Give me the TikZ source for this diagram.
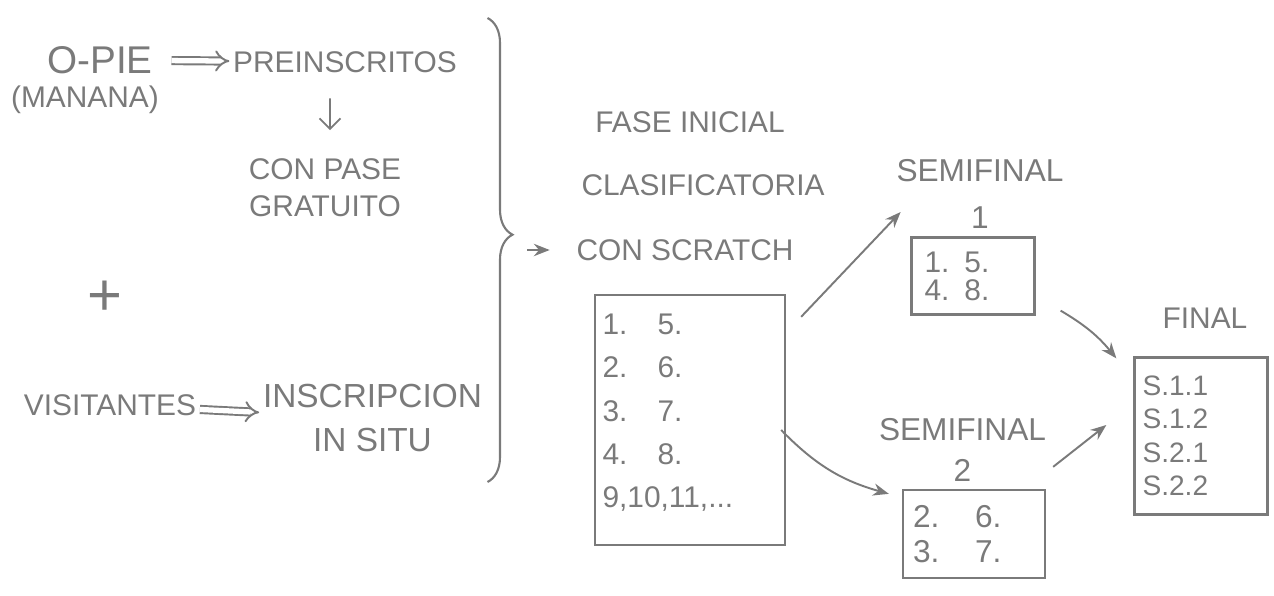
\documentclass[tikz,border=0pt]{standalone}
\usepackage{fontspec}
\setmainfont{Liberation Sans}
\usetikzlibrary{arrows.meta,positioning,decorations.pathreplacing}
\definecolor{lapiz}{HTML}{7A7A7A}
\newcommand{\fila}[3][1.1cm]{\makebox[#1][l]{#2}#3}

\begin{document}
\begin{tikzpicture}[
        every node/.style={text=lapiz, font=\fontsize{17}{21}\selectfont, inner sep=2pt},
        caja/.style={draw=lapiz, line width=1.3pt, align=left, inner sep=0pt},
        flecha/.style={-{Stealth[length=9pt,width=7pt]}, draw=lapiz, line width=1.1pt},
        doble/.style={double=white, double distance=3pt, -{Implies}, draw=lapiz, line width=1.1pt}
    ]
    \useasboundingbox (0,0) rectangle (25.48,-11.92);

    \node (opie) at (2.0,-1.2) [font=\fontsize{22}{24}\selectfont] {O-PIE};
    \node (manana) at (1.7,-2.0) {(MANANA)};
    \node (preins) at (6.9,-1.24) {PREINSCRITOS};
    \node (pase) at (6.5,-3.76) [align=center] {CON PASE\\GRATUITO};
    \node (mas) at (2.1,-5.96) [font=\fontsize{34}{34}\selectfont] {+};
    \node (visit) at (2.2,-8.1) {VISITANTES};
    \node (inscr) at (7.45,-8.36) [align=center, font=\fontsize{19}{25.5}\selectfont] {INSCRIPCION\\IN SITU};

    \draw [doble, shorten <=0.3cm] (opie) -- (preins);
    \draw [doble] (visit) -- (inscr);
    \draw [-{Straight Barb[length=6pt]}, lapiz, line width=1pt, shorten <=0.44cm, shorten >=0.5cm]
        ([xshift=-0.3cm]preins.south) -- ([xshift=0.1cm]pase.north);

    % llave
    \draw [lapiz, line width=1.2pt, decorate, decoration={brace, amplitude=0.5cm, aspect=0.467}]
        (9.75,-0.36) -- (9.75,-9.64);
    \coordinate (punta) at (10.54,-5.0);

    \node (fase) at (13.8,-2.44) {FASE INICIAL};
    \node (clasif) at (14.06,-3.7) {CLASIFICATORIA};
    \node (scratch) at (13.7,-5.0) {CON SCRATCH};
    \draw [flecha, shorten >=0.46cm] (punta) -- (scratch);

    \node (general) [caja, minimum width=3.8cm, minimum height=5cm, text width=3.5cm,
        font=\fontsize{17}{24.5}\selectfont] at (13.8,-8.4)
        {\fila{1.}{5.}\\\fila{2.}{6.}\\\fila{3.}{7.}\\\fila{4.}{8.}\\9,10,11,...\\[-14pt]\mbox{}};

    \node (sf1lbl) at (19.6,-3.88) [align=center, font=\fontsize{18}{27}\selectfont] {SEMIFINAL\\1};
    \node (sf1) [caja, minimum width=2.46cm, minimum height=1.54cm, text width=1.94cm,
        font=\fontsize{17}{16}\selectfont] at (19.46,-5.52)
        {\fila[0.8cm]{1.}{5.}\\\fila[0.8cm]{4.}{8.}};

    \node (sf2lbl) at (19.25,-9.0) [align=center, font=\fontsize{18}{23}\selectfont] {SEMIFINAL\\2};
    \node (sf2) [caja, minimum width=2.84cm, minimum height=1.76cm, text width=2.44cm,
        font=\fontsize{18}{20}\selectfont] at (19.48,-10.68)
        {\fila[1.24cm]{2.}{6.}\\\fila[1.24cm]{3.}{7.}};

    \node (finlbl) at (24.1,-6.36) {FINAL};
    \node (final) [caja, minimum width=2.66cm, minimum height=3.14cm, text width=2.34cm,
        font=\fontsize{16}{19}\selectfont] at (24.02,-8.72)
        {S.1.1\\S.1.2\\S.2.1\\S.2.2};

    \draw [flecha] ([shift={(0.3,-0.46)}]general.north east) -- ([shift={(0.16,-0.36)}]sf1lbl.west);
    \draw [flecha] ([shift={(-0.1,-0.2)}]general.east) to[bend right=15] ([shift={(-0.26,-0.1)}]sf2.north west);
    \draw [flecha] ([shift={(0.5,0.1)}]sf1.south east) to[bend left=10] ([shift={(-0.34,-0.04)}]final.north west);
    \draw [flecha] ([shift={(0.14,0.44)}]sf2.north east) -- ([shift={(-0.54,0.22)}]final.west);
\end{tikzpicture}
\end{document}
